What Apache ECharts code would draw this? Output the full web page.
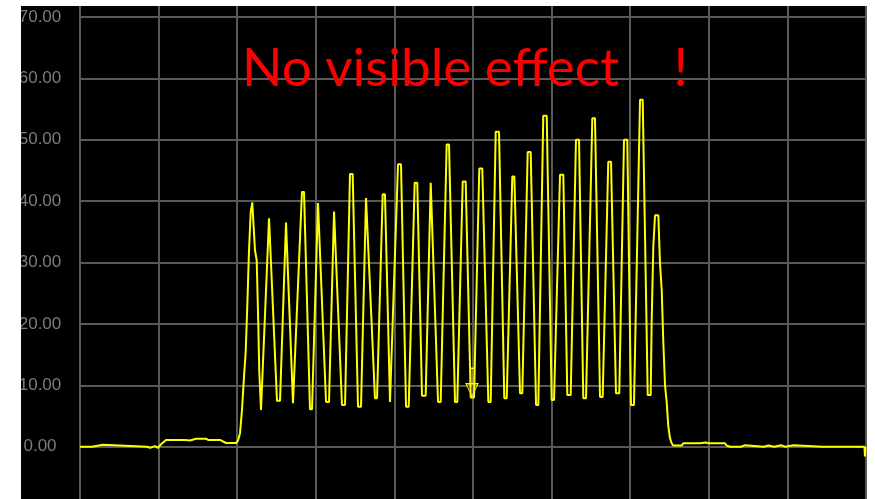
<!DOCTYPE html>
<html>
<head>
<meta charset="utf-8">
<script src="https://cdn.jsdelivr.net/npm/echarts@6/dist/echarts.min.js"></script>
<style>
  html, body { margin: 0; padding: 0; background: #ffffff; }
  #chart { width: 875px; height: 499px; }
</style>
</head>
<body>
<div id="chart"></div>
<script>
// Captured trace: time (division units, 10 per grid division) and signal level.
const timeBase = [0.00, 1.53, 1.65, 2.93, 3.05, 8.52, 8.91, 9.54, 9.92, 10.31, 10.94, 13.36, 14.00, 14.76, 16.03, 16.29, 17.81, 18.58, 19.85, 20.10, 20.36];
const levelBase = [0, 0, 0.3, 0.3, 0, 0, -0.2, 0.1, -0.2, 0.4, 1.1, 1.1, 1.0, 1.3, 1.3, 1.1, 1.1, 0.6, 0.6, 1.0, 2.2];

// Burst: onset of the first oscillation
const timeOnset = [20.61, 20.87, 21.08, 21.29, 21.50, 21.72, 21.92, 22.07, 22.26, 22.48, 22.68, 22.81, 23.03, 23.22];
const levelOnset = [6.0, 11.5, 15.4, 23.2, 31.9, 38.2, 39.8, 40.1, 32.0, 30.4, 20.2, 12.2, 6.0, 6.0];

// Burst: crest (start, end, level) and trough (start, end, level) of each following cycle
const crestStart = [24.05, 26.21, 28.24, 30.28, 32.32, 34.35, 36.39, 38.51, 40.46, 42.58, 44.62, 46.65, 48.69, 50.80, 52.89, 55.00, 56.96, 58.94, 61.07, 63.10, 65.18, 67.21, 69.21, 71.25];
const crestEnd   = [24.30, 26.46, 28.50, 30.41, 32.57, 34.69, 36.64, 38.80, 40.84, 42.91, 44.87, 46.95, 49.07, 51.18, 53.31, 55.26, 57.34, 59.38, 61.49, 63.49, 65.52, 67.56, 69.63, 71.59];
const crestLevel = [37.2, 36.5, 41.5, 39.7, 38.3, 44.4, 40.5, 41.1, 46.0, 43.0, 43.0, 49.2, 43.2, 45.3, 51.3, 44.0, 48.0, 53.9, 44.3, 50.0, 53.5, 46.4, 50.0, 56.5];
const troughStart = [25.06, 27.10, 29.26, 31.30, 33.33, 35.37, 37.53, 39.44, 41.48, 43.51, 45.55, 47.71, 49.71, 51.95, 53.98, 55.98, 58.02, 60.01, 62.00, 64.03, 66.16, 68.19, 70.10, 72.23];
const troughEnd   = [25.45, 27.35, 29.52, 31.68, 33.72, 35.75, 37.79, 39.69, 41.82, 43.98, 45.89, 48.00, 50.13, 52.25, 54.29, 56.27, 58.31, 60.31, 62.43, 64.38, 66.50, 68.61, 70.48, 72.61];
const troughLevel = [7.5, 7.1, 6.1, 7.3, 6.8, 6.5, 7.9, 7.3, 6.5, 8.3, 7.3, 7.3, 8.0, 7.3, 7.9, 8.7, 6.8, 7.6, 8.4, 7.9, 8.1, 8.7, 6.8, 8.4];

// Last cycle and decay back to the baseline
const timeTail = [72.73, 72.94, 73.16, 73.58, 73.79, 74.01, 74.21, 74.43, 74.64, 74.85, 75.06, 75.28, 75.45, 76.59, 76.72, 78.88, 79.13, 79.64, 79.90, 82.06, 82.32, 82.70, 84.10, 84.22, 84.60, 84.73, 87.00, 87.10, 87.60, 87.70, 88.30, 88.40, 89.20, 89.30, 89.70, 89.80, 90.80, 90.90, 94.40, 94.50, 94.60, 97.00, 97.10, 97.20, 99.80, 99.87, 99.93, 100.00];
const levelTail = [20.4, 32.6, 37.7, 37.7, 29.9, 25.5, 17.1, 10.0, 7.3, 3.3, 1.4, 0.55, 0.2, 0.2, 0.55, 0.55, 0.7, 0.7, 0.55, 0.55, 0.15, 0, 0, 0.25, 0.25, 0, 0, 0.2, 0.2, 0, 0, 0.25, 0.25, 0, 0, 0.25, 0.25, 0, 0, 0.2, 0, 0, 0.2, 0, 0, -1.6, 0, 0];

// Trigger marker position on the trace
const markerTime = 49.87;
const markerLevel = 10.5;

// Axis ranges (grid spans one division beyond the visible screen on each side)
const yMin = -10, yMax = 80, yStep = 10;
const xMin = 0, xMax = 100, xStep = 10;

const titleText = 'No visible effect    !';

function buildTrace() {
  const pts = [];
  timeBase.forEach((t, i) => pts.push([t, levelBase[i]]));
  timeOnset.forEach((t, i) => pts.push([t, levelOnset[i]]));
  for (let i = 0; i < crestStart.length; i++) {
    pts.push([crestStart[i], crestLevel[i]]);
    pts.push([crestEnd[i], crestLevel[i]]);
    pts.push([troughStart[i], troughLevel[i]]);
    pts.push([troughEnd[i], troughLevel[i]]);
  }
  timeTail.forEach((t, i) => pts.push([t, levelTail[i]]));
  return pts;
}

const gridColor = '#595959';
const chart = echarts.init(document.getElementById('chart'), null, { renderer: 'canvas' });

chart.setOption({
  animation: false,
  backgroundColor: '#000000',
  grid: { left: 80, right: 9, top: -44.5, bottom: -9.1, outerBoundsMode: 'none', containLabel: false },
  xAxis: {
    type: 'value', min: xMin, max: xMax, interval: xStep,
    axisLine: { show: false }, axisTick: { show: false }, axisLabel: { show: false },
    splitLine: { show: true, lineStyle: { color: gridColor, width: 2 } }
  },
  yAxis: {
    type: 'value', min: yMin, max: yMax, interval: yStep,
    axisLine: { show: false }, axisTick: { show: false },
    axisLabel: {
      formatter: v => v.toFixed(2),
      align: 'center', margin: 40,
      color: '#7c7c7c', fontFamily: 'Liberation Sans', fontSize: 17
    },
    splitLine: { show: true, lineStyle: { color: gridColor, width: 2 } }
  },
  series: [{
    type: 'line',
    data: buildTrace(),
    showSymbol: false,
    lineStyle: { color: '#ffff00', width: 2 },
    markPoint: {
      symbol: 'path://M3 0 H9 M6 0 V15 M0 15 H12 L6 27 Z',
      symbolSize: [12, 28],
      label: { show: false },
      itemStyle: { color: 'rgba(0,0,0,0)', borderColor: '#ffff00', borderWidth: 1 },
      data: [{ coord: [markerTime, markerLevel] }]
    }
  }],
  graphic: [
    { type: 'rect', z: 100, shape: { x: 0, y: 0, width: 21, height: 499 }, style: { fill: '#ffffff' } },
    { type: 'rect', z: 100, shape: { x: 867, y: 0, width: 8, height: 499 }, style: { fill: '#ffffff' } },
    { type: 'rect', z: 100, shape: { x: 0, y: 0, width: 875, height: 6 }, style: { fill: '#ffffff' } },
    {
      type: 'text', z: 101, x: 242, y: 42,
      style: {
        text: titleText, fill: '#ff0000',
        font: '53px Lato', verticalAlign: 'top'
      }
    }
  ]
});
</script>
</body>
</html>
